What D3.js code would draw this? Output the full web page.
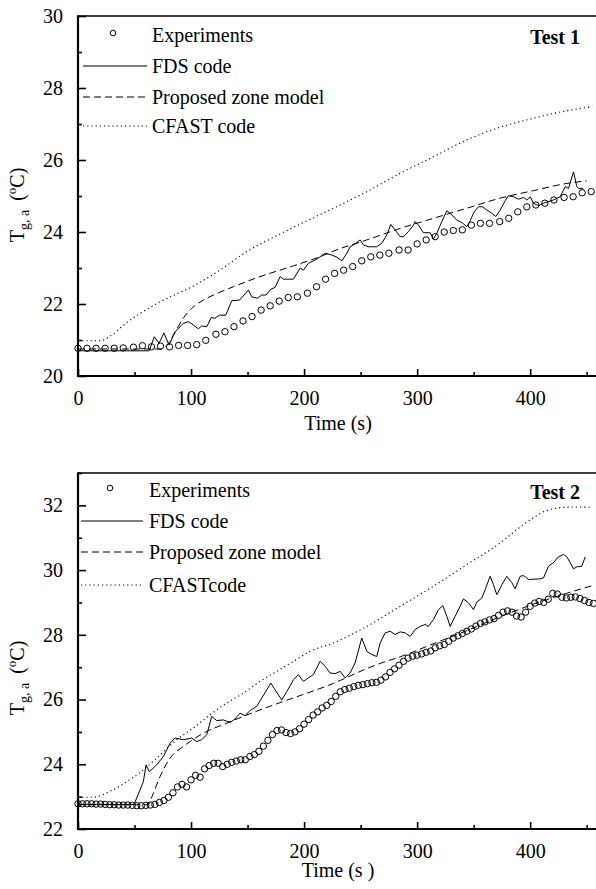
<!DOCTYPE html>
<html>
<head>
<meta charset="utf-8">
<script src="https://cdn.jsdelivr.net/npm/d3@7"></script>
<style>
  body { margin: 0; background: #fff; }
  svg { display: block; }
  text { font-family: "Liberation Serif", "Times New Roman", serif; fill: #000; }
</style>
</head>
<body>
<svg id="chart" width="596" height="889"></svg>
<script>
// ---------------- Test 1 ----------------
const t1ExpTime = [0, 8, 16, 24, 32, 40, 49, 57, 65, 73, 81, 89, 97, 105, 113, 122, 130, 138, 146, 154,
  162, 170, 178, 186, 194, 203, 211, 219, 227, 235, 243, 251, 259, 267, 275, 284, 292, 300, 308, 316,
  324, 332, 340, 348, 356, 364, 373, 381, 389, 397, 405, 413, 421, 430, 438, 446, 454];
const t1ExpTemp = [20.77, 20.77, 20.77, 20.77, 20.77, 20.78, 20.80, 20.84, 20.81, 20.83, 20.81, 20.85, 20.85, 20.87, 20.99, 21.16, 21.23, 21.37, 21.53, 21.65,
  21.83, 21.95, 22.08, 22.18, 22.20, 22.30, 22.48, 22.69, 22.85, 22.94, 23.04, 23.20, 23.31, 23.36, 23.41, 23.50, 23.50, 23.67, 23.78, 23.87,
  24.00, 24.04, 24.06, 24.19, 24.24, 24.24, 24.29, 24.38, 24.56, 24.70, 24.75, 24.80, 24.89, 24.96, 24.98, 25.09, 25.12];

const t1FdsTime = [0, 63, 67.5, 71.7, 76, 80.5, 86, 93, 97.6, 102, 106.5, 109.4, 114, 118, 121, 125, 130.7, 136, 143, 150.7,
  153.7, 158.7, 162.5, 166.4, 170.5, 174.3, 178.8, 181.7, 190.6, 196.5, 199.4, 203.8, 209.7, 214.2, 218.6, 224.5, 229, 233.4, 237.8, 240.7,
  245.1, 249.6, 252.5, 257, 264.3, 268.8, 273.2, 276.7, 280.5, 285, 287.9, 292.3, 296.7, 298.2, 301.2, 305.6, 311.5, 314.4, 317.4, 321.8,
  326.3, 329.2, 335.1, 339.6, 344, 346.9, 350.4, 354.3, 357.8, 361.7, 366.1, 369.6, 373.5, 377.9, 380.8, 385.2, 389.7, 394.1, 397, 400,
  402.9, 407.4, 411.8, 420.6, 426.5, 431, 433.9, 438.3, 441.3, 442.8, 447];
const t1FdsTemp = [20.70, 20.70, 21.09, 20.91, 21.20, 20.86, 21.23, 21.46, 21.51, 21.42, 21.31, 21.39, 21.37, 21.63, 21.60, 21.69, 21.69, 22.09, 22.11, 22.39,
  22.20, 22.16, 22.25, 22.25, 22.41, 22.46, 22.76, 22.69, 22.69, 23.00, 22.94, 23.13, 23.22, 23.31, 23.41, 23.36, 23.30, 23.20, 23.41, 23.59,
  23.67, 23.78, 23.64, 23.59, 23.59, 23.69, 23.92, 24.21, 24.06, 23.87, 23.87, 24.01, 24.19, 24.29, 24.19, 23.98, 23.98, 23.81, 23.96, 24.29,
  24.59, 24.52, 24.33, 24.26, 24.15, 24.31, 24.56, 24.70, 24.70, 24.61, 24.52, 24.43, 24.61, 24.87, 25.01, 24.98, 24.91, 24.96, 24.89, 24.98,
  24.80, 24.73, 24.80, 24.89, 24.98, 25.26, 25.21, 25.67, 25.26, 25.21, 25.20];

const t1ZoneTime = [0, 72, 78.5, 86, 93, 100.6, 111, 120, 137.5, 161, 190.6, 217, 226, 255.5, 285, 314.4, 344, 373.5, 403, 432.5, 450];
const t1ZoneTemp = [20.75, 20.75, 20.85, 21.23, 21.60, 21.88, 22.11, 22.25, 22.48, 22.76, 23.06, 23.35, 23.47, 23.78, 24.10, 24.38, 24.66, 24.94, 25.15, 25.35, 25.42];

const t1CfastTime = [0, 20, 28, 43, 72.6, 102, 126, 149, 176, 196.5, 226, 255.5, 285, 314.4, 344, 373.5, 403, 432.5, 455];
const t1CfastTemp = [20.98, 20.98, 21.10, 21.48, 22.06, 22.50, 22.95, 23.45, 23.90, 24.22, 24.66, 25.12, 25.63, 26.09, 26.56, 26.91, 27.16, 27.37, 27.48];

// ---------------- Test 2 ----------------
const t2ExpTime = [0, 4, 8, 12, 16, 20, 24, 28, 32, 36, 40, 44, 48, 52, 56, 60, 64, 68, 72, 76,
  80, 84, 88, 92, 96, 100, 104, 108, 112, 116, 120, 124, 128, 132, 136, 140, 144, 148, 152, 156,
  160, 164, 168, 172, 176, 180, 184, 188, 192, 196, 200, 204, 208, 212, 216, 220, 224, 228, 232, 236,
  240, 244, 248, 252, 256, 260, 264, 268, 272, 276, 280, 284, 288, 292, 296, 300, 304, 308, 312, 316,
  320, 324, 328, 332, 336, 340, 344, 348, 352, 356, 360, 364, 368, 372, 376, 380, 384, 388, 392, 396,
  400, 404, 408, 412, 416, 420, 424, 428, 432, 436, 440, 444, 448, 452, 456];
const t2ExpTemp = [22.78, 22.78, 22.78, 22.78, 22.77, 22.77, 22.76, 22.75, 22.75, 22.74, 22.74, 22.74, 22.73, 22.72, 22.72, 22.73, 22.74, 22.76, 22.82, 22.88,
  22.98, 23.12, 23.30, 23.38, 23.30, 23.52, 23.66, 23.60, 23.86, 23.96, 24.03, 24.03, 23.93, 24.00, 24.06, 24.10, 24.14, 24.14, 24.24, 24.30,
  24.40, 24.56, 24.74, 24.92, 25.04, 25.06, 24.98, 24.95, 25.00, 25.10, 25.24, 25.38, 25.52, 25.62, 25.74, 25.82, 25.94, 26.10, 26.24, 26.31,
  26.35, 26.40, 26.44, 26.46, 26.49, 26.52, 26.53, 26.60, 26.70, 26.84, 26.95, 27.06, 27.18, 27.28, 27.34, 27.37, 27.41, 27.46, 27.50, 27.60,
  27.66, 27.70, 27.80, 27.90, 27.97, 28.04, 28.11, 28.18, 28.27, 28.35, 28.40, 28.46, 28.50, 28.60, 28.70, 28.74, 28.70, 28.58, 28.55, 28.70,
  28.88, 28.98, 29.03, 29.00, 29.10, 29.28, 29.26, 29.16, 29.14, 29.16, 29.17, 29.12, 29.06, 29.00, 28.97];

const t2FdsTime = [0, 49.6, 54.9, 57.8, 60.2, 63.1, 69.6, 75.5, 81.4, 85.8, 93.2, 100.6, 105, 109.4, 113.9, 118.3, 122.7, 128.6, 134.5, 138.9,
  143.4, 147.8, 152.2, 158.1, 162.6, 167, 170.5, 174.3, 180.3, 184.7, 190.6, 195, 199.4, 203.8, 208.2, 214.2, 218.6, 223, 227.4, 231.9,
  236.3, 240.7, 245.1, 251, 255.5, 259.9, 264.3, 267.3, 271.7, 276.1, 280.5, 285, 289.4, 293.8, 298.2, 302.7, 307.1, 310, 314.4, 318.9,
  322.7, 326.3, 329.2, 333.6, 338, 341, 345.4, 349.8, 352.8, 357.3, 360.2, 364.6, 367.5, 370.5, 375, 379.4, 383.8, 386.7, 391.2, 394.1,
  398.5, 408.8, 411.8, 416.2, 420.6, 425, 429.5, 432.4, 435.4, 438.3, 441.3, 445.7, 448.7];
const t2FdsTemp = [22.76, 22.76, 23.21, 23.46, 23.98, 23.77, 23.98, 24.24, 24.65, 24.81, 24.76, 24.81, 24.70, 24.76, 24.91, 25.48, 25.35, 25.37, 25.29, 25.40,
  25.58, 25.50, 25.66, 25.79, 26.05, 26.30, 26.51, 26.30, 25.99, 26.25, 26.61, 26.77, 26.56, 26.67, 26.77, 27.18, 27.03, 26.82, 26.80, 26.87,
  26.67, 26.82, 27.13, 27.90, 27.49, 27.39, 27.33, 27.75, 28.06, 28.11, 28.01, 28.09, 28.06, 27.95, 28.16, 28.26, 28.32, 28.26, 28.47, 28.78,
  28.90, 28.57, 28.26, 28.57, 28.88, 29.11, 28.99, 28.78, 29.01, 29.14, 29.40, 29.81, 29.55, 29.24, 29.55, 29.81, 29.61, 29.42, 29.81, 29.83,
  29.71, 29.73, 29.76, 30.12, 30.23, 30.41, 30.48, 30.41, 30.23, 30.04, 30.10, 30.12, 30.41];

const t2ZoneTime = [0, 62, 66, 72.6, 81.4, 93.2, 110.9, 131.6, 161, 190.6, 226, 255, 270, 285, 314, 344, 373, 403, 432, 455];
const t2ZoneTemp = [22.75, 22.75, 23.05, 23.62, 24.19, 24.55, 24.96, 25.27, 25.68, 26.05, 26.50, 26.95, 27.15, 27.32, 27.72, 28.13, 28.55, 28.95, 29.28, 29.52];

const t2CfastTime = [0, 13, 28, 43, 58, 72.6, 87.3, 102, 116.8, 131.6, 146.3, 161, 175.8, 190.6, 205.3, 226, 255.5, 285, 314.4, 344, 373.5, 390, 403, 413, 425, 440, 455];
const t2CfastTemp = [22.98, 22.98, 23.16, 23.46, 23.83, 24.29, 24.76, 25.12, 25.53, 25.89, 26.20, 26.56, 26.87, 27.18, 27.49, 27.75, 28.26, 28.88, 29.50, 30.17, 30.84, 31.30, 31.62, 31.82, 31.92, 31.95, 31.94];

// ---------------- Axes / legend text ----------------
const xMajorTicks = [0, 100, 200, 300, 400];
const xMinorTicks = [50, 150, 250, 350, 450];
const t1YMajor = [20, 22, 24, 26, 28, 30];
const t1YMinor = [21, 23, 25, 27, 29];
const t2YMajor = [22, 24, 26, 28, 30, 32];
const t2YMinor = [23, 25, 27, 29, 31, 33];
const t1Legend = ["Experiments", "FDS code", "Proposed zone model", "CFAST code"];
const t2Legend = ["Experiments", "FDS code", "Proposed zone model", "CFASTcode"];

const zip = (ts, vs) => ts.map((t, i) => ({ t, v: vs[i] }));

const panels = [
  {
    title: "Test 1", xTitle: "Time (s)",
    yDomain: [20, 30], top: 16, bottom: 376,
    yMajor: t1YMajor, yMinor: t1YMinor,
    exp: zip(t1ExpTime, t1ExpTemp), fds: zip(t1FdsTime, t1FdsTemp),
    zone: zip(t1ZoneTime, t1ZoneTemp), cfast: zip(t1CfastTime, t1CfastTemp),
    legend: t1Legend, legendX: 152, legendLine: [83, 147], legendY: [42, 73, 104, 133], markerX: 113,
    titleY: 44, xTitleY: 430, yTitleY: 205
  },
  {
    title: "Test 2", xTitle: "Time (s )",
    yDomain: [22, 33], top: 473, bottom: 829,
    yMajor: t2YMajor, yMinor: t2YMinor,
    exp: zip(t2ExpTime, t2ExpTemp), fds: zip(t2FdsTime, t2FdsTemp),
    zone: zip(t2ZoneTime, t2ZoneTemp), cfast: zip(t2CfastTime, t2CfastTemp),
    legend: t2Legend, legendX: 149, legendLine: [81, 143], legendY: [497, 528, 559, 592], markerX: 110,
    titleY: 499, xTitleY: 877, yTitleY: 678
  }
];

const svg = d3.select("#chart");
const left = 78, rightEdge = 598;
const FONT = 20;

panels.forEach(p => {
  const x = d3.scaleLinear().domain([0, 460]).range([left, rightEdge]);
  const y = d3.scaleLinear().domain(p.yDomain).range([p.bottom, p.top]);
  const g = svg.append("g");

  // frame: top border, left axis, bottom axis
  g.append("line").attr("x1", left).attr("x2", 596).attr("y1", p.top).attr("y2", p.top)
    .attr("stroke", "#000").attr("stroke-width", 1.6);

  // y ticks (inward)
  const yMaj = g.append("g").attr("transform", `translate(${left},0)`)
    .call(d3.axisLeft(y).tickValues(p.yMajor).tickSize(-8).tickSizeOuter(0).tickPadding(15).tickFormat(d3.format("d")));
  const yMin = g.append("g").attr("transform", `translate(${left},0)`)
    .call(d3.axisLeft(y).tickValues(p.yMinor).tickSize(-4).tickSizeOuter(0).tickFormat(""));
  // x ticks (inward)
  const xMaj = g.append("g").attr("transform", `translate(0,${p.bottom})`)
    .call(d3.axisBottom(x).tickValues(xMajorTicks).tickSize(-7).tickSizeOuter(0).tickPadding(15).tickFormat(d3.format("d")));
  const xMin = g.append("g").attr("transform", `translate(0,${p.bottom})`)
    .call(d3.axisBottom(x).tickValues(xMinorTicks).tickSize(-4).tickSizeOuter(0).tickFormat(""));
  [yMaj, yMin, xMaj, xMin].forEach(a => {
    a.select(".domain").remove();
    a.selectAll(".tick line").attr("stroke", "#000").attr("stroke-width", 1.6);
    a.selectAll(".tick text").attr("font-size", FONT).attr("font-family", "Liberation Serif, serif").attr("fill", "#000");
  });

  g.append("line").attr("x1", left).attr("x2", left).attr("y1", p.top - 0.8).attr("y2", p.bottom + 1)
    .attr("stroke", "#000").attr("stroke-width", 2.2);
  g.append("line").attr("x1", left - 1).attr("x2", 596).attr("y1", p.bottom).attr("y2", p.bottom)
    .attr("stroke", "#000").attr("stroke-width", 2.2);

  // series
  const line = d3.line().x(d => x(d.t)).y(d => y(d.v));
  const smooth = d3.line().x(d => x(d.t)).y(d => y(d.v)).curve(d3.curveMonotoneX);

  g.append("path").datum(p.cfast).attr("d", smooth).attr("fill", "none")
    .attr("stroke", "#000").attr("stroke-width", 1.1).attr("stroke-dasharray", "1.2,3");
  g.append("path").datum(p.zone).attr("d", smooth).attr("fill", "none")
    .attr("stroke", "#000").attr("stroke-width", 1).attr("stroke-dasharray", "7,4");
  g.append("path").datum(p.fds).attr("d", line).attr("fill", "none")
    .attr("stroke", "#000").attr("stroke-width", 1);
  g.append("g").selectAll("circle").data(p.exp).join("circle")
    .attr("cx", d => x(d.t)).attr("cy", d => y(d.v)).attr("r", 3.2)
    .attr("fill", "none").attr("stroke", "#000").attr("stroke-width", 1);

  // legend
  const [lx1, lx2] = p.legendLine;
  g.append("circle").attr("cx", p.markerX).attr("cy", p.legendY[0] - 9).attr("r", 2.8)
    .attr("fill", "none").attr("stroke", "#000").attr("stroke-width", 1);
  const styles = [null, null, "7,4", "1.2,3"];
  [1, 2, 3].forEach(i => {
    g.append("line").attr("x1", lx1).attr("x2", lx2)
      .attr("y1", p.legendY[i] - 7).attr("y2", p.legendY[i] - 7)
      .attr("stroke", "#000").attr("stroke-width", 1)
      .attr("stroke-dasharray", styles[i]);
  });
  p.legend.forEach((name, i) => {
    g.append("text").attr("x", p.legendX).attr("y", p.legendY[i]).attr("font-size", FONT).text(name);
  });

  // panel title
  g.append("text").attr("x", 580).attr("y", p.titleY).attr("text-anchor", "end")
    .attr("font-size", FONT).attr("font-weight", "bold").text(p.title);

  // axis titles
  g.append("text").attr("x", 338).attr("y", p.xTitleY).attr("text-anchor", "middle")
    .attr("font-size", FONT).text(p.xTitle);

  const yt = g.append("text").attr("transform", `translate(24,${p.yTitleY}) rotate(-90)`)
    .attr("text-anchor", "middle").attr("font-size", FONT);
  yt.append("tspan").text("T");
  yt.append("tspan").attr("font-size", 14).attr("dy", 5).text("g, a");
  yt.append("tspan").attr("dy", -5).text("\u2009 (");
  yt.append("tspan").attr("font-size", 13).attr("dy", -8).text("o");
  yt.append("tspan").attr("dy", 8).text("C)");
});
</script>
</body>
</html>
